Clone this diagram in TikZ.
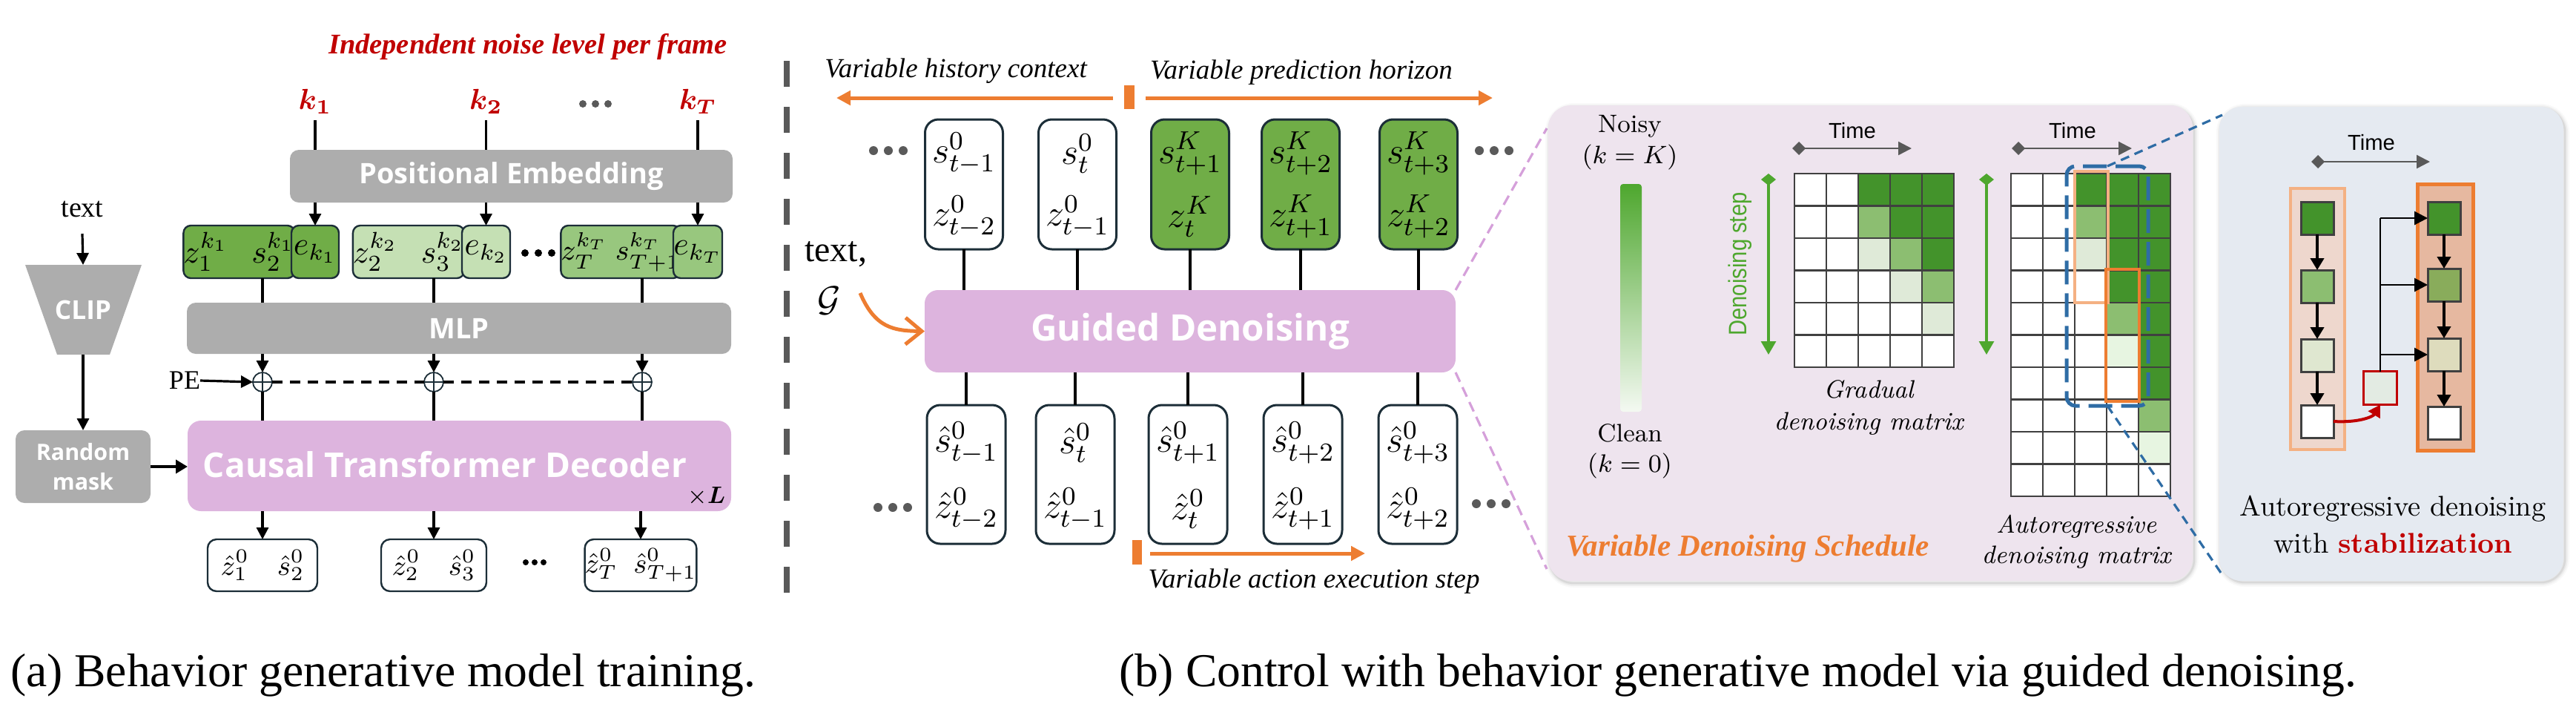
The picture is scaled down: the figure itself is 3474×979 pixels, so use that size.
\IfFileExists{fix-cm.sty}{\RequirePackage{fix-cm}}{}
\documentclass[tikz,border=0pt]{standalone}
\IfFileExists{amsmath.sty}{\usepackage{amsmath}}{\providecommand\boldsymbol[1]{\mathbf{#1}}}
\usepackage{fontspec}
\newfontfamily\tnr{Liberation Serif}
\newfontfamily\osans{Open Sans}
\newfontfamily\lsans{Liberation Sans}
\usetikzlibrary{arrows.meta,calc}
\newcommand\fsz[1]{\fontsize{#1}{#1}\selectfont}
\definecolor{gbox}{HTML}{ADADAD}
\definecolor{pinkb}{HTML}{DDB4DE}
\definecolor{gA}{HTML}{70AD47}
\definecolor{gB}{HTML}{C5E0B4}
\definecolor{gC}{HTML}{98C77E}
\definecolor{navy}{HTML}{1C2E38}
\definecolor{orng}{HTML}{ED7D31}
\definecolor{lorng}{HTML}{F4B183}
\definecolor{dred}{HTML}{C00000}
\definecolor{sepgray}{HTML}{595959}
\definecolor{dotgray}{HTML}{5A5A5A}
\definecolor{pdash}{HTML}{D5A0DA}
\definecolor{bdash}{HTML}{2E6CA5}
\definecolor{panelp}{HTML}{EEE4EE}
\definecolor{panelb}{HTML}{E5EAF1}
\definecolor{cW}{HTML}{FFFFFF}
\definecolor{cD}{HTML}{43932B}
\definecolor{cM}{HTML}{8CBE71}
\definecolor{cL}{HTML}{DFEAD8}
\definecolor{cV}{HTML}{E7F5E1}
\definecolor{gridc}{HTML}{404040}
\definecolor{arrowgreen}{HTML}{4EA72E}
\definecolor{timegray}{HTML}{595959}
\definecolor{gradbot}{HTML}{F4F9F2}
\definecolor{lcolfill}{HTML}{EED7CD}
\definecolor{rcolfill}{HTML}{E6B8A0}
\definecolor{rsM}{HTML}{89AC5B}
\definecolor{rsL}{HTML}{DEDCBD}
\definecolor{lsL}{HTML}{DFE7D0}
\definecolor{redboxfill}{HTML}{E3EBE3}
\begin{document}
\begin{tikzpicture}[x=0.25pt,y=-0.25pt,
  every node/.style={inner sep=0pt,outer sep=0pt},
  sz/.style 2 args={minimum width=#1*0.25pt,minimum height=#2*0.25pt},
  graybox/.style={fill=gbox,rounded corners=3pt,text=white},
  pinkbox/.style={fill=pinkb,rounded corners=4.5pt,text=white},
  gbx/.style={draw=navy,line width=0.6pt,rounded corners=2.5pt},
  tbox/.style={draw=navy,line width=0.75pt,rounded corners=4.5pt},
  obox/.style={draw=navy,line width=0.6pt,rounded corners=3pt,fill=white},
  conn/.style={line width=0.8pt},
  arr/.style={line width=0.8pt,-{Triangle[length=4pt,width=4pt]}},
  oarr/.style={draw=orng,line width=1.25pt,-{Triangle[length=4.75pt,width=4.75pt]}},
  dashedk/.style={line width=1.2pt,dash pattern=on 3.5pt off 2.5pt},
  sepl/.style={draw=sepgray,line width=2.15pt,dash pattern=on 8.75pt off 6.75pt},
  pdl/.style={draw=pdash,line width=0.8pt,dash pattern=on 3.5pt off 2pt},
  bdl/.style={draw=bdash,line width=0.8pt,dash pattern=on 3pt off 2pt},
  timearr/.style={draw=timegray,line width=0.6pt,{Diamond[length=4.5pt,width=4.5pt]}-{Triangle[length=4.5pt,width=4.5pt]}},
  greenarr/.style={draw=arrowgreen,line width=0.8pt,{Diamond[length=4pt,width=5pt]}-{Triangle[length=4.5pt,width=5pt]}},
  barr/.style={line width=1pt,-{Triangle[length=4pt,width=4.5pt]}},
  barr2/.style={line width=0.7pt,-{Triangle[length=4.5pt,width=4.5pt]}},
  sq/.style={draw=gridc,line width=0.75pt,sz={44}{44}},
  itl/.style={font=\tnr\itshape\fsz{9.25},anchor=base},
  mlab/.style={font=\itshape\fsz{8.5}},
  halo/.style={draw=black,rounded corners=8pt}
]
\useasboundingbox (0,0) rectangle (3474,979);

% ================= (a) =================
\node[text=dred,font=\tnr\bfseries\itshape\fsz{9.6}] (title) at (712,63) {Independent noise level per frame};
\node[text=dred,font=\fsz{9.8}] (k1) at (425,137) {$\boldsymbol{k_1}$};
\node[text=dred,font=\fsz{9.8}] (k2) at (655.5,137) {$\boldsymbol{k_2}$};
\node[text=dred,font=\fsz{9.8}] (kT) at (941,137) {$\boldsymbol{k_T}$};
\foreach \dx in {-17,0,17} \fill[dotgray] (803+\dx,140) circle (1.25pt);

\node[graybox,sz={597}{71},font=\osans\bfseries\fsz{9.5}] (pe) at (689.5,237.5) {Positional Embedding};
\foreach \k in {k1,k2,kT} \draw[conn] ($(\k.center)+(0,25)$) -- (\k |- pe.north);

\node[gbx,fill=gA,sz={141}{71},font=\fsz{11}] (zs1) at (322.5,339.5) {$z_1^{k_1}\;\;\,s_2^{k_1}$};
\node[gbx,fill=gA,sz={64}{71},font=\fsz{11}] (e1) at (425,339.5) {$e_{k_1}$};
\node[gbx,fill=gB,sz={144}{71},font=\fsz{11}] (zs2) at (551,339.5) {$z_2^{k_2}\;\;\,s_3^{k_2}$};
\node[gbx,fill=gB,sz={65}{71},font=\fsz{11}] (e2) at (655.5,339.5) {$e_{k_2}$};
\node[gbx,fill=gC,sz={142}{71},font=\fsz{9.8}] (zsT) at (837,339.5) {$z_T^{k_T}\;s_{T+1}^{k_T}$};
\node[gbx,fill=gC,sz={66}{71},font=\fsz{11}] (eT) at (941,339.5) {$e_{k_T}$};
\foreach \dx in {-18,0,18} \fill (726+\dx,341) circle (1.25pt);
\foreach \e in {e1,e2,eT} \draw[arr] (\e |- pe.south) -- (\e.north);

\node[graybox,sz={734}{69},font=\osans\bfseries\fsz{9.5}] (mlp) at (619,442.5) {MLP};
\coordinate (c1) at (354,0);
\coordinate (c2) at (585,0);
\coordinate (c3) at (866,0);
\draw[conn] (c1 |- zs1.south) -- (c1 |- mlp.north);
\draw[conn] (c2 |- zs2.south) -- (c2 |- mlp.north);
\draw[conn] (c3 |- zsT.south) -- (c3 |- mlp.north);

\node[pinkbox,sz={733}{122}] (ctd) at (619.5,628) {};
\node[text=white,font=\osans\bfseries\fsz{11.5}] (ctdt) at (600,626) {Causal Transformer Decoder};
\node[font=\fsz{8}] (xl) at (953,669) {$\times\boldsymbol{L}$};

\foreach \i/\x in {1/354,2/585,3/866}{
  \node[circle,draw=navy,line width=0.45pt,minimum size=6.5pt,fill=white] (p\i) at (\x,515) {};
  \draw[navy,line width=0.45pt] (p\i.north) -- (p\i.south) (p\i.west) -- (p\i.east);
  \draw[arr] (p\i |- mlp.south) -- (p\i.north);
  \draw[conn] (p\i.south) -- (p\i |- ctd.north);
}
\node[font=\tnr\fsz{9}] (pel) at (249,513) {PE};
\draw[arr] (pel.east) -- (p1.west);
\draw[dashedk] (p1.east) -- (p2.west);
\draw[dashedk] (p2.east) -- (p3.west);

\node[font=\tnr\fsz{9.5}] (txta) at (111,282) {text};
\fill[gbox] (34,357) -- (191,357) -- (148,478) -- (77,478) -- cycle;
\coordinate (cliptop) at (112,357);
\coordinate (clipbot) at (112,478);
\node[text=white,font=\osans\bfseries\fsz{8.8}] (clip) at (112,418) {CLIP};
\draw[arr] ($(txta.center)+(0,33)$) -- (cliptop);
\node[graybox,sz={182}{98},align=center,font=\osans\bfseries\fontsize{7.6}{10}\selectfont] (rm) at (112,629) {Random\\mask};
\draw[arr] (clipbot) -- (rm.north);
\draw[line width=1.1pt,-{Triangle[length=4pt,width=4.5pt]}] (rm.east) -- (rm.east -| ctd.west);

\node[obox,sz={148}{70},font=\fsz{9.5}] (o1) at (354,762) {$\hat z_1^0\quad\hat s_2^0$};
\node[obox,sz={142}{70},font=\fsz{9.5}] (o2) at (585,762) {$\hat z_2^0\quad\hat s_3^0$};
\node[obox,sz={150}{70},font=\fsz{9.5}] (o3) at (864,762) {$\hat z_T^0\;\;\hat s_{T+1}^0$};
\foreach \o in {o1,o2,o3} \draw[arr] (\o |- ctd.south) -- (\o.north);
\foreach \dx in {-12,0,12} \fill (721+\dx,758) circle (1pt);

\node[anchor=base west,font=\tnr\fsz{15.9}] (capa) at (14,925) {(a) Behavior generative model training.};

% separator
\coordinate (sepT) at (1061,82);
\coordinate (sepB) at (1061,802);
\draw[sepl] (sepT) -- (sepB);

% ================= (b) =================
\node[itl] (vhc) at (1289,104) {Variable history context};
\node[itl] (vph) at (1755,106) {Variable prediction horizon};
\node[fill=orng,sz={14}{32}] (tick1) at (1523,131) {};
\coordinate (hL) at (1128,132);
\coordinate (hR) at (2013,132);
\draw[oarr] ($(tick1.west)+(-15,1)$) -- (hL);
\draw[oarr] ($(tick1.east)+(15,1)$) -- (hR);

\node[pinkbox,sz={716}{111},font=\osans\bfseries\fsz{12.3}] (gd) at (1605,446.5) {Guided Denoising};

\foreach \i/\x/\f/\s/\z in {1/1300/white/{s^0_{t-1}}/{z^0_{t-2}},2/1453/white/{s^0_{t}}/{z^0_{t-1}},3/1605/gA/{s^K_{t+1}}/{z^K_{t}},4/1754/gA/{s^K_{t+2}}/{z^K_{t+1}},5/1913/gA/{s^K_{t+3}}/{z^K_{t+2}}}{
  \node[tbox,fill=\f,sz={105}{175}] (tb\i) at (\x,248.5) {};
  \node[font=\fsz{12.5}] (tbs\i) at (\x,207) {$\s$};
  \node[font=\fsz{12.5}] (tbz\i) at (\x,292) {$\z$};
  \draw[conn] (tb\i.south) -- (tb\i.south |- gd.north);
}
\foreach \i/\x/\s/\z in {1/1303/{\hat s^0_{t-1}}/{\hat z^0_{t-2}},2/1450/{\hat s^0_{t}}/{\hat z^0_{t-1}},3/1602/{\hat s^0_{t+1}}/{\hat z^0_{t}},4/1757/{\hat s^0_{t+2}}/{\hat z^0_{t+1}},5/1912/{\hat s^0_{t+3}}/{\hat z^0_{t+2}}}{
  \node[tbox,fill=white,sz={106}{187}] (bb\i) at (\x,639.5) {};
  \node[font=\fsz{12.5}] (bbs\i) at (\x,597) {$\s$};
  \node[font=\fsz{12.5}] (bbz\i) at (\x,686) {$\z$};
  \draw[conn] (bb\i.north) -- (bb\i.north |- gd.south);
}
\foreach \cx/\cy in {1198/203,2015/203,1204/684,2011/679}
  \foreach \dx in {-20,0,20} \fill[dotgray] (\cx+\dx,\cy) circle (1.5pt);

\node[font=\tnr\fsz{12}] (txtb) at (1127,343) {text,};
\node[font=\fsz{12}] (calg) at (1118,405) {$\mathcal{G}$};
\coordinate (gs) at (1160,395);
\draw[orng,line width=1.25pt,-{Straight Barb[length=5.5pt,width=9pt]}] (gs) .. controls (1180,442) and (1205,446) .. (gd.west);

\node[fill=orng,sz={13}{33}] (tick2) at (1533.5,744.5) {};
\coordinate (aeR) at (1841,746);
\draw[oarr] ($(tick2.east)+(11,1.5)$) -- (aeR);
\node[itl] (vae) at (1772,792) {Variable action execution step};

\node[anchor=base west,font=\tnr\fsz{15.9}] (capb) at (1509,925) {(b) Control with behavior generative model via guided denoising.};

% pink dashed zoom lines
\coordinate (pd1) at (2086,173);
\coordinate (pd2) at (2086,767);
\draw[pdl] (gd.north east) -- (pd1);
\draw[pdl] (gd.south east) -- (pd2);

% ---- pink panel ----
\foreach \w/\o in {3pt/0.025,2pt/0.035,1.2pt/0.045,0.6pt/0.06}
  \draw[halo,line width=\w,opacity=\o] (2090,145) rectangle (2959,786);
\node[fill=panelp,rounded corners=7.5pt,sz={869}{641}] (ppan) at (2522.5,462.5) {};
\node[font=\fsz{8.5}] (noisy) at (2198,170) {Noisy};
\node[font=\fsz{8.5}] (nk) at (2198,212) {$(k=K)$};
\shade[top color=arrowgreen,bottom color=gradbot,rounded corners=1pt] (2185,248) rectangle (2214,555);
\node[font=\fsz{8.5}] (clean) at (2198,584) {Clean};
\node[font=\fsz{8.5}] (ck) at (2198,628) {$(k=0)$};

\node[font=\lsans\fsz{7.3}] (time1) at (2498,176) {Time};
\coordinate (tgL1) at (2417,200);
\coordinate (tgR1) at (2578,200);
\draw[timearr] (tgL1) -- (tgR1);
\coordinate (gv1t) at (2385,234);
\coordinate (gv1b) at (2385,478);
\draw[greenarr] (gv1t) -- (gv1b);
\node[rotate=90,text=arrowgreen,font=\lsans\fsz{8.5}] (dstep) at (2347,356) {\scalebox{0.86}[1]{Denoising step}};

\foreach \row [count=\r] in {{W,W,D,D,D},{W,W,M,D,D},{W,W,L,M,D},{W,W,W,L,M},{W,W,W,W,L},{W,W,W,W,W}}{
  \foreach \cl [count=\c] in \row {
    \filldraw[fill=c\cl,draw=gridc,line width=0.7pt] ({2420+(\c-1)*43},{234+(\r-1)*43.5}) rectangle ++(43,43.5);
  }
}
\node[mlab] (grad1) at (2520,525) {Gradual};
\node[mlab] (grad2) at (2520,571) {denoising matrix};

\node[font=\lsans\fsz{7.3}] (time2) at (2795,176) {Time};
\coordinate (tgL2) at (2713,200);
\coordinate (tgR2) at (2875,200);
\draw[timearr] (tgL2) -- (tgR2);
\coordinate (gv2t) at (2679,234);
\coordinate (gv2b) at (2679,478);
\draw[greenarr] (gv2t) -- (gv2b);

\foreach \row [count=\r] in {{W,W,D,D,D},{W,W,M,D,D},{W,W,L,D,D},{W,W,W,D,D},{W,W,W,M,D},{W,W,W,V,D},{W,W,W,W,D},{W,W,W,W,M},{W,W,W,W,V},{W,W,W,W,W}}{
  \foreach \cl [count=\c] in \row {
    \filldraw[fill=c\cl,draw=gridc,line width=0.7pt] ({2712+(\c-1)*43},{234+(\r-1)*43.5}) rectangle ++(43,43.5);
  }
}
\draw[lorng,line width=1pt] (2798,231) rectangle (2843,408);
\draw[orng,line width=1pt] (2840,363) rectangle (2885,541);
\node[draw=bdash,line width=1.25pt,dash pattern=on 8pt off 3pt,rounded corners=3pt,sz={110}{323}] (bsel) at (2842,385.5) {};
\node[mlab] (ar1) at (2800,710) {Autoregressive};
\node[mlab] (ar2) at (2800,751) {denoising matrix};
\node[text=orng,font=\tnr\bfseries\itshape\fsz{10.25},anchor=base] (vds) at (2357,749) {Variable Denoising Schedule};

% ---- blue panel ----
\foreach \w/\o in {3pt/0.025,2pt/0.035,1.2pt/0.045,0.6pt/0.06}
  \draw[halo,line width=\w,opacity=\o] (2995,146) rectangle (3459,785);
\node[fill=panelb,rounded corners=7.5pt,sz={464}{639}] (bpan) at (3225,463.5) {};
\coordinate (bl1) at (2997,155);
\coordinate (bl2) at (2997,775);
\draw[bdl] (bsel.north) -- (bl1);
\draw[bdl] (bsel.south) -- (bl2);

\node[font=\lsans\fsz{7.3}] (time3) at (3198,192) {Time};
\coordinate (tgL3) at (3117,218);
\coordinate (tgR3) at (3277,218);
\draw[timearr] (tgL3) -- (tgR3);

\node[fill=lcolfill,draw=lorng,line width=1pt,sz={73}{352}] (lcol) at (3125.5,430) {};
\node[fill=rcolfill,draw=orng,line width=1.25pt,sz={75}{359}] (rcol) at (3297.5,427.5) {};
\node[sq,fill=cD] (ls1) at (3125,294) {};
\node[sq,fill=cM] (ls2) at (3125,386) {};
\node[sq,fill=lsL] (ls3) at (3125,479) {};
\node[sq,fill=white] (ls4) at (3125,568) {};
\node[sq,fill=cD] (rs1) at (3296,294) {};
\node[sq,fill=rsM] (rs2) at (3296,384) {};
\node[sq,fill=rsL] (rs3) at (3296,478) {};
\node[sq,fill=white] (rs4) at (3296,570) {};
\draw[barr] (ls1) -- (ls2);
\draw[barr] (ls2) -- (ls3);
\draw[barr] (ls3) -- (ls4);
\draw[barr] (rs1) -- (rs2);
\draw[barr] (rs2) -- (rs3);
\draw[barr] (rs3) -- (rs4);
\node[fill=redboxfill,draw=dred,line width=0.8pt,sz={45}{45}] (rbox) at (3210,523) {};
\draw[dred,line width=1pt,-{Triangle[length=4pt,width=4.5pt]}] (ls4.east) .. controls (3180,570) and (3200,562) .. (rbox.south);
\coordinate (trtop) at (rbox.north |- rs1.west);
\draw[line width=0.7pt] (rbox.north) -- (trtop);
\draw[barr2] (trtop) -- (rs1.west);
\draw[barr2] (rbox.north |- rs2.west) -- (rs2.west);
\draw[barr2] (rbox.north |- rs3.west) -- (rs3.west);

\node[font=\fsz{9.6}] (ard) at (3227,686) {Autoregressive denoising};
\node[font=\fsz{9.6}] (ws) at (3227,732) {with \textcolor{dred}{\bfseries stabilization}};
\end{tikzpicture}
\end{document}
